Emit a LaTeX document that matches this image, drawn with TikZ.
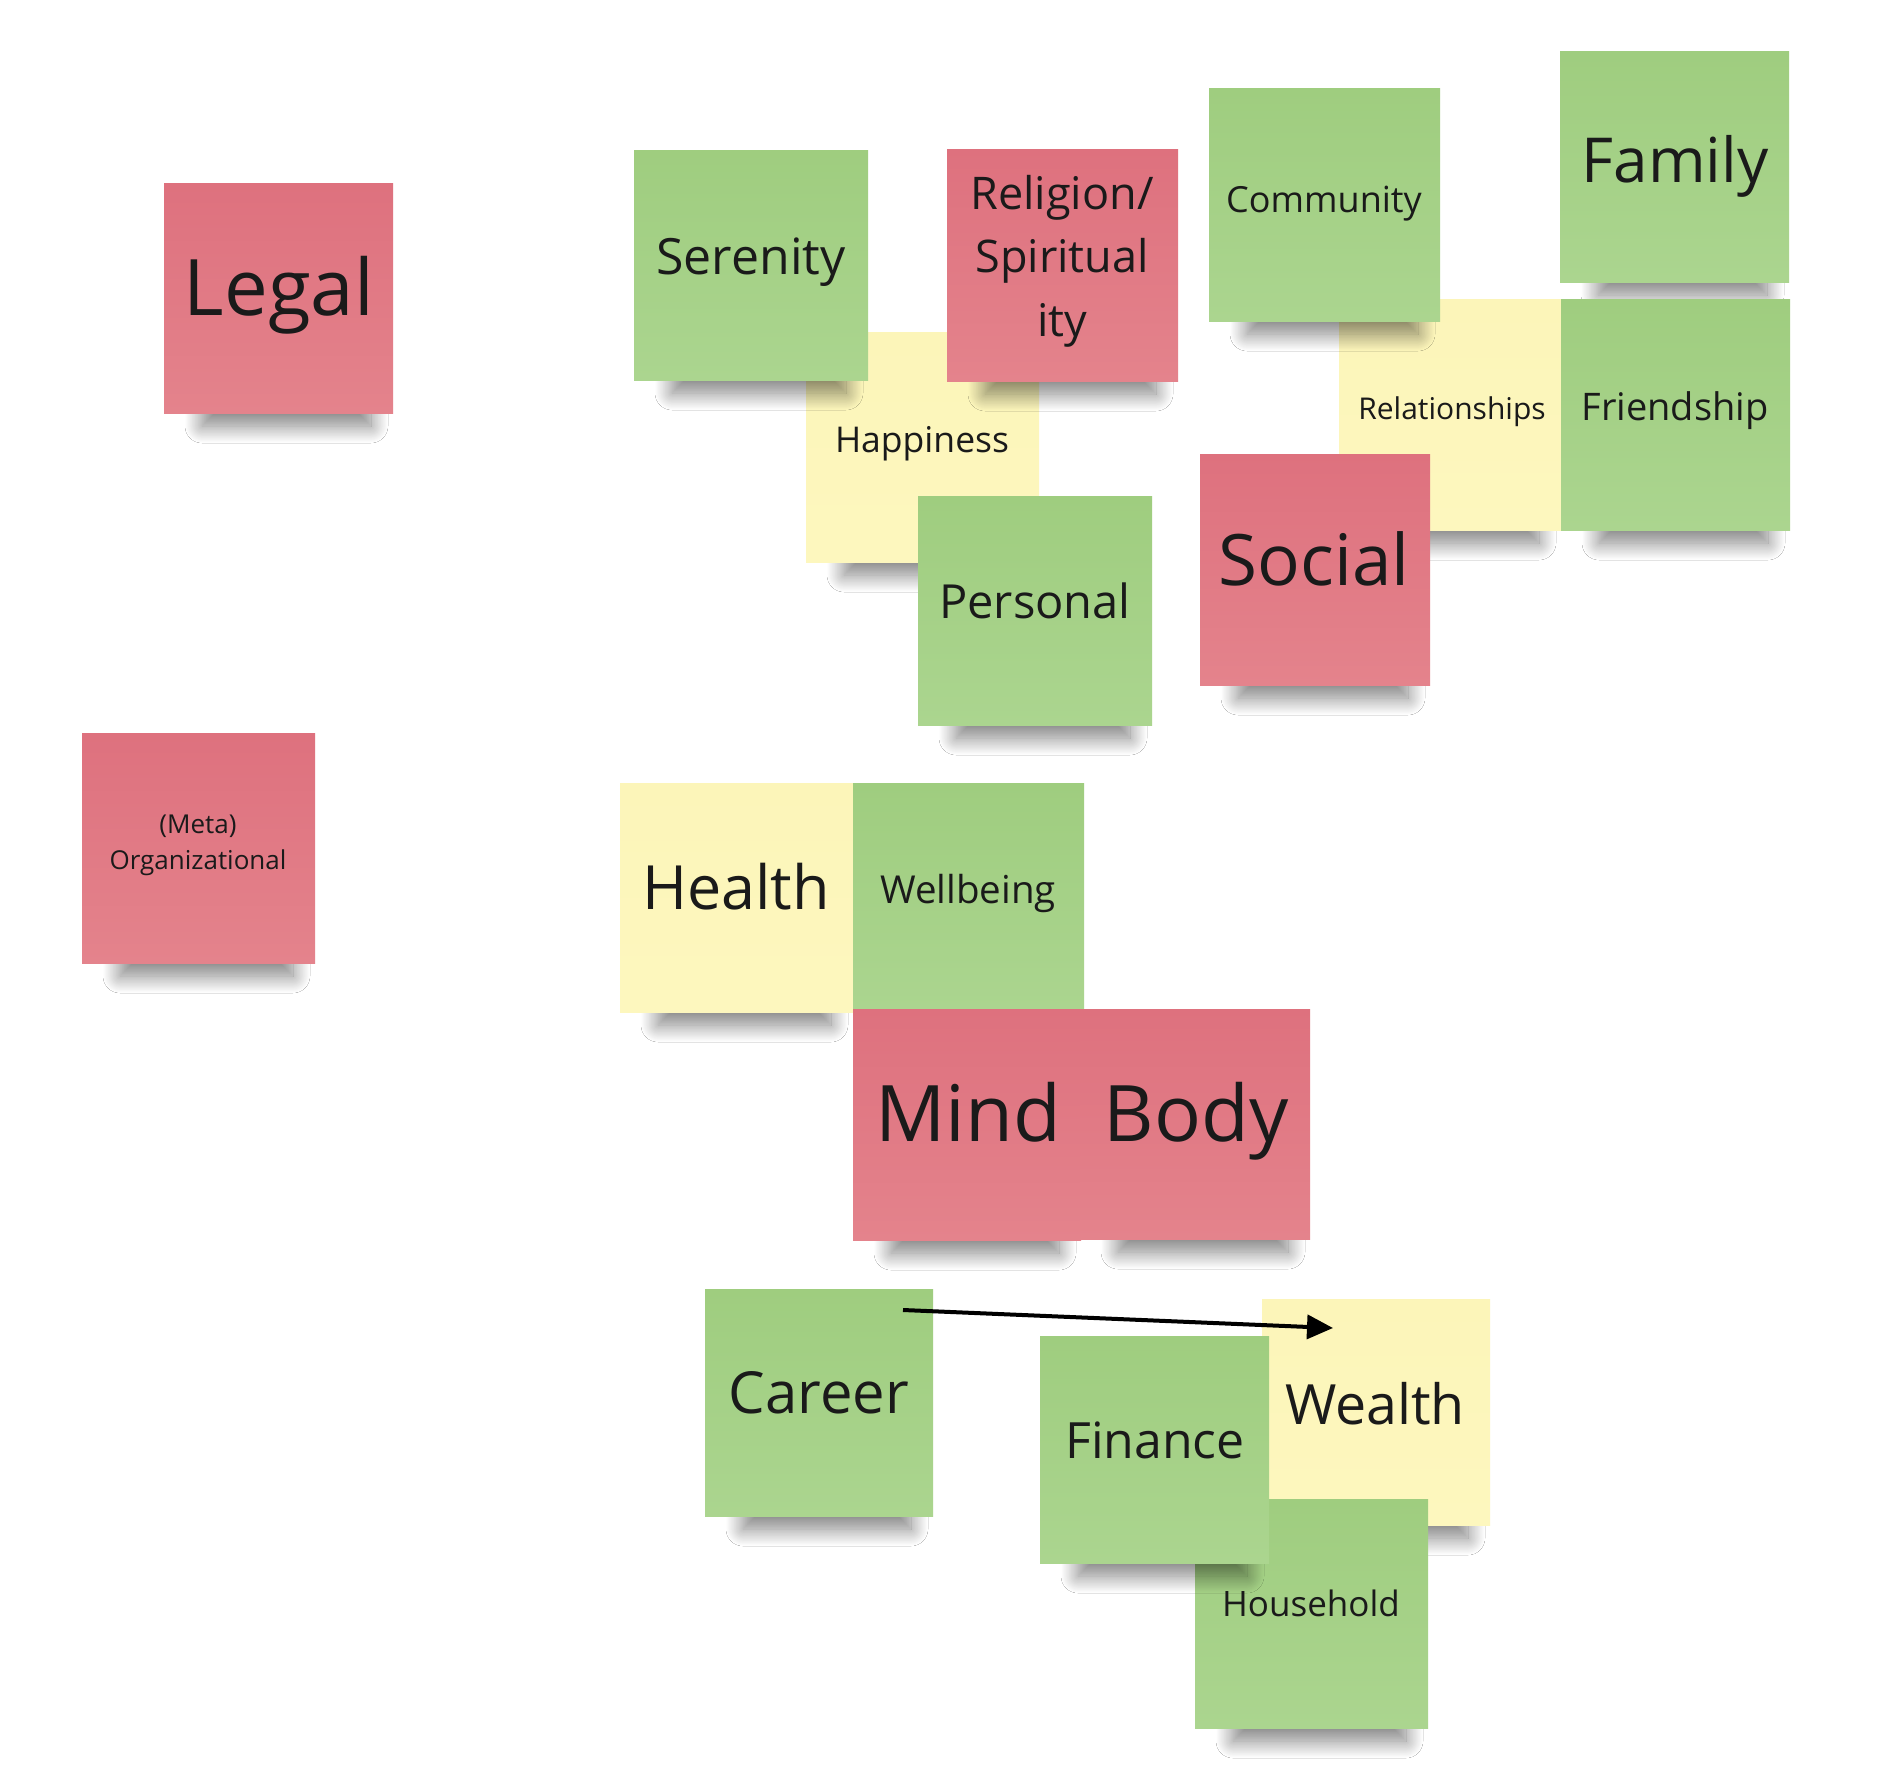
\documentclass[tikz,border=0pt]{standalone}
\usepackage{fontspec}
\setmainfont{Open Sans}
\usetikzlibrary{arrows.meta,shadows.blur}
\definecolor{gtop}{RGB}{159,205,127}
\definecolor{gbot}{RGB}{171,213,143}
\definecolor{rtop}{RGB}{222,113,126}
\definecolor{rbot}{RGB}{228,131,140}
\definecolor{ytop}{RGB}{252,245,185}
\definecolor{ybot}{RGB}{253,247,190}
\definecolor{ink}{RGB}{26,26,26}
\tikzset{
  note/.style={rectangle, draw=none, inner sep=0pt, outer sep=0pt},
  greennote/.style={note, top color=gtop, bottom color=gbot},
  rednote/.style={note, top color=rtop, bottom color=rbot},
  yellownote/.style={note, top color=ytop, bottom color=ybot},
  lbl/.style={inner sep=0pt, text=ink, anchor=base},
  link/.style={draw=black, line width=4pt, -{Triangle[length=26pt,width=24pt]}},
  notecast/.style={blur shadow={shadow xshift=0pt, shadow yshift=0pt, shadow blur radius=17pt, shadow opacity=50, shadow blur steps=24}}
}
\newcommand{\stickynote}[6]{%
  \pgfmathsetmacro\nw{#4-#2}\pgfmathsetmacro\nh{#5-#3}%
  \pgfmathsetmacro\ncx{(#2+#4)/2}\pgfmathsetmacro\ncy{(#3+#5)/2}%
  \path[notecast] ({#2+38},{#5-50}) rectangle ({#4-22},{#5+13});%
  \node[#6, minimum width=\nw pt, minimum height=\nh pt] (#1) at (\ncx,\ncy) {};%
}
\newcommand{\fs}[1]{\fontsize{#1}{#1}\selectfont}
\begin{document}
\begin{tikzpicture}[x=1pt,y=-1pt]
\useasboundingbox (0,0) rectangle (1900,1774);
\fill[white] (0,0) rectangle (1900,1774);

% Legal
\stickynote{legal}{164}{183}{393}{413}{rednote}
\node[lbl, font=\fs{78}] (legal-t) at (279,315) {Legal};

% (Meta) Organizational
\stickynote{meta}{82}{733}{315}{963}{rednote}
\node[lbl, font=\fs{26}] (meta-t1) at (198,833) {(Meta)};
\node[lbl, font=\fs{26}] (meta-t2) at (198,869) {Organizational};

% Happiness cluster
\stickynote{happiness}{806}{332}{1039}{562}{yellownote}
\node[lbl, font=\fs{35.5}] (happiness-t) at (922,452) {Happiness};
\stickynote{serenity}{634}{150}{868}{380}{greennote}
\node[lbl, font=\fs{50}] (serenity-t) at (751,274) {Serenity};
\stickynote{religion}{947}{149}{1178}{381}{rednote}
\node[lbl, font=\fs{45}] (religion-t1) at (1062,209) {Religion/};
\node[lbl, font=\fs{45}] (religion-t2) at (1062,272) {Spiritual};
\node[lbl, font=\fs{45}] (religion-t3) at (1062,336) {ity};
\stickynote{personal}{918}{496}{1152}{725}{greennote}
\node[lbl, font=\fs{47}] (personal-t) at (1035,618) {Personal};

% Relationships cluster
\stickynote{relationships}{1339}{299}{1561}{530}{yellownote}
\node[lbl, font=\fs{30}] (relationships-t) at (1452,419) {Relationships};
\stickynote{community}{1209}{89}{1440}{321}{greennote}
\node[lbl, font=\fs{36}] (community-t) at (1324,212) {Community};
\stickynote{family}{1560}{52}{1789}{282}{greennote}
\node[lbl, font=\fs{62}] (family-t) at (1675,182) {Family};
\stickynote{friendship}{1561}{299}{1790}{530}{greennote}
\node[lbl, font=\fs{38}] (friendship-t) at (1675,420) {Friendship};
\stickynote{social}{1200}{454}{1430}{685}{rednote}
\node[lbl, font=\fs{71}] (social-t) at (1314,585) {Social};

% Health cluster
\stickynote{health}{620}{783}{853}{1012}{yellownote}
\node[lbl, font=\fs{61}] (health-t) at (736,909) {Health};
\stickynote{wellbeing}{853}{783}{1084}{1010}{greennote}
\node[lbl, font=\fs{38.5}] (wellbeing-t) at (968,903) {Wellbeing};
\stickynote{mind}{853}{1009}{1081}{1240}{rednote}
\node[lbl, font=\fs{78}] (mind-t) at (968,1141) {Mind};
\stickynote{body}{1080}{1009}{1310}{1239}{rednote}
\node[lbl, font=\fs{78}] (body-t) at (1196,1141) {Body};

% Wealth cluster
\stickynote{wealth}{1262}{1299}{1490}{1525}{yellownote}
\node[lbl, font=\fs{55.5}] (wealth-t) at (1375,1424) {Wealth};
\stickynote{household}{1195}{1499}{1428}{1728}{greennote}
\node[lbl, font=\fs{35}] (household-t) at (1311,1616) {Household};
\stickynote{finance}{1040}{1336}{1269}{1563}{greennote}
\node[lbl, font=\fs{50}] (finance-t) at (1155,1458) {Finance};
\stickynote{career}{705}{1289}{933}{1516}{greennote}
\node[lbl, font=\fs{58}] (career-t) at (819,1413) {Career};

% Arrow
\coordinate (arrS) at (903,1310);
\coordinate (arrE) at (1333,1328);
\draw[link] (arrS) -- (arrE);
\end{tikzpicture}
\end{document}
